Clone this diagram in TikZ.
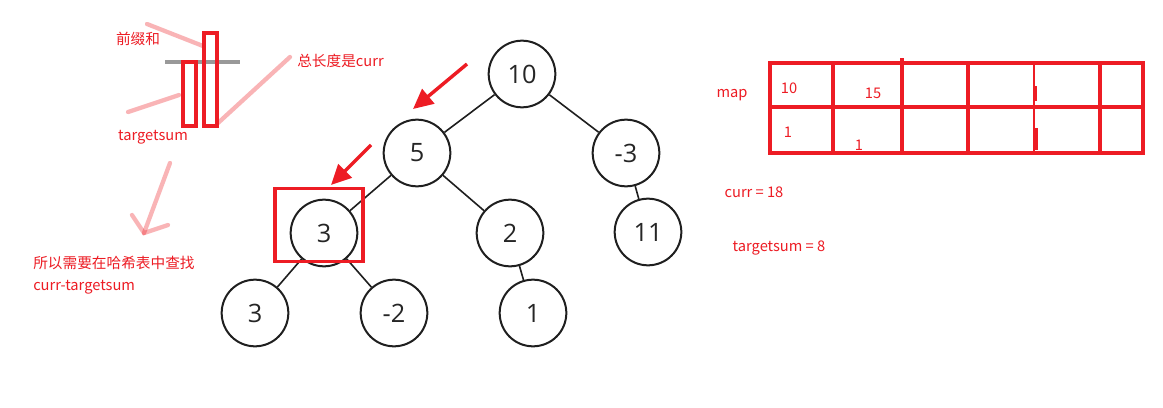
\documentclass[tikz,border=0pt]{standalone}
\usepackage{fontspec}
\setmainfont{Open Sans}
\newfontfamily\cjk{Noto Sans CJK SC}
\usetikzlibrary{arrows.meta}
\definecolor{pred}{HTML}{ED1C24}
\begin{document}
\begin{tikzpicture}[x=0.75pt,y=-0.75pt,
  tnode/.style={circle,draw=black!88,line width=1.5pt,minimum size=50pt,inner sep=0pt,
    font=\fontsize{19}{22}\selectfont,text=black!85},
  tedge/.style={draw=black!88,line width=1.2pt},
  rlabel/.style={font=\cjk\fontsize{11}{13}\selectfont,text=pred,inner sep=0pt},
  redarrow/.style={draw=pred,line width=2.6pt,-{Triangle[length=15pt,width=14pt]}},
  pinkstroke/.style={draw=pred,draw opacity=0.33,line width=3.2pt,line cap=round},
  redbar/.style={draw=pred,line width=2.4pt},
  grid/.style={draw=pred,line width=2.6pt}]
\useasboundingbox (0,0) rectangle (1163,407);
\fill[white] (0,0) rectangle (1163,407);

% tree
\node[tnode] (n10) at (522,74) {10};
\node[tnode] (n5) at (417,153) {5};
\node[tnode] (nm3) at (626,153) {-3};
\node[tnode] (n3a) at (324,233) {3};
\node[tnode] (n2) at (510,233) {2};
\node[tnode] (n11) at (648,232) {11};
\node[tnode] (n3b) at (255,313) {3};
\node[tnode] (nm2) at (394,313) {-2};
\node[tnode] (n1) at (533,313) {1};
\draw[tedge] (n10) -- (n5);
\draw[tedge] (n10) -- (nm3);
\draw[tedge] (n5) -- (n3a);
\draw[tedge] (n5) -- (n2);
\draw[tedge] (nm3) -- (n11);
\draw[tedge] (n3a) -- (n3b);
\draw[tedge] (n3a) -- (nm2);
\draw[tedge] (n2) -- (n1);

% highlight box and red arrows
\node[draw=pred,line width=2.6pt,minimum width=66pt,minimum height=55pt,inner sep=0pt] (hbox) at (319,225) {};
\coordinate (a1s) at (467,64);
\coordinate (a1e) at (413,109);
\coordinate (a2s) at (371,145);
\coordinate (a2e) at (331,185);
\draw[redarrow] (a1s) -- (a1e);
\draw[redarrow] (a2s) -- (a2e);

% top-left sketch
\draw[black!40,line width=2.4pt] (165,62) -- (240,62);
\draw[redbar] (183,62) rectangle (196,126);
\draw[redbar] (204,33) rectangle (217,126);
\node[rlabel] (pre) at (138,39) {前缀和};
\node[rlabel] (tgt) at (153,137) {targetsum};
\node[rlabel,anchor=west] (tot) at (297,61) {总长度是curr};
\draw[pinkstroke] (147,24) -- (203,46);
\draw[pinkstroke] (128,112) -- (179,95);
\draw[pinkstroke] (218,123) -- (290,57);
\coordinate (pa1) at (170,163);
\coordinate (pa2) at (144,233);
\coordinate (pa3) at (132,215);
\coordinate (pa4) at (168,225);
\draw[pinkstroke] (pa1) -- (pa2);
\draw[pinkstroke] (pa3) -- (pa2) -- (pa4);
\node[rlabel,anchor=west] (need) at (33,263) {所以需要在哈希表中查找};
\node[rlabel,anchor=west] (diff) at (33,287) {curr-targetsum};

% map table
\node[rlabel] (map) at (732,95) {map};
\draw[grid] (770,63) rectangle (1143,153);
\draw[grid] (770,107) -- (1143,107);
\draw[grid] (833,63) -- (833,153);
\draw[grid] (902,58) -- (902,153);
\draw[grid] (968,63) -- (968,153);
\draw[draw=pred,line width=1.8pt] (1034,63) -- (1034,153);
\draw[draw=pred,line width=2.8pt] (1035,86) -- (1035,101);
\draw[draw=pred,line width=2.8pt] (1036,128) -- (1036,150);
\draw[grid] (1100,63) -- (1100,153);
\node[rlabel] (m10) at (789,88) {10};
\node[rlabel] (m15) at (873,93) {15};
\node[rlabel] (m1a) at (788,132) {1};
\node[rlabel] (m1b) at (859,145) {1};

\node[rlabel] (curr) at (754,192) {curr = 18};
\node[rlabel] (tsum) at (779,248) {targetsum = 8};
\end{tikzpicture}
\end{document}
